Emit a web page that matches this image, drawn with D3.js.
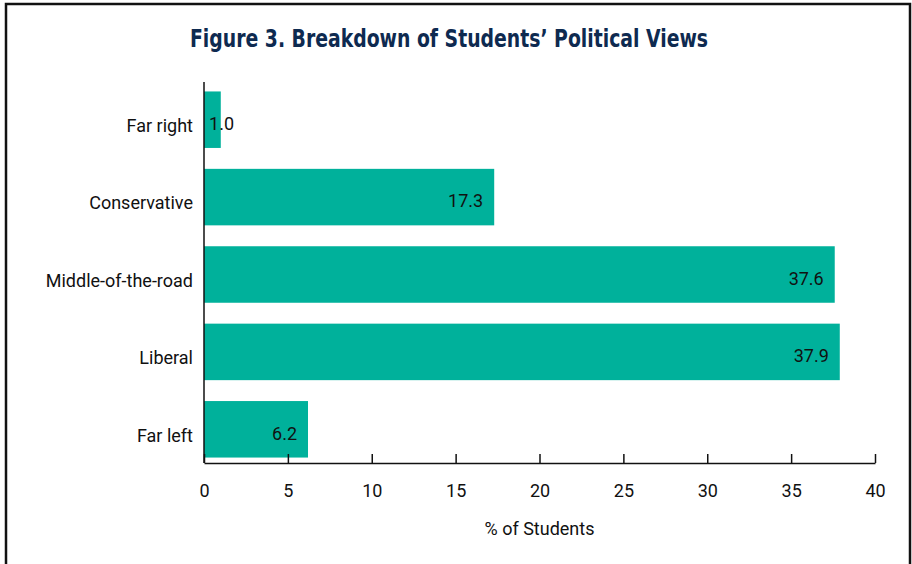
<!DOCTYPE html>
<html>
<head>
<meta charset="utf-8">
<script src="https://cdn.jsdelivr.net/npm/d3@7"></script>
<style>
  body { margin: 0; background: #fff; }
  svg { display: block; }
</style>
</head>
<body>
<div id="container"></div>
<script>
let categories = ["Far right", "Conservative", "Middle-of-the-road", "Liberal", "Far left"];
let values = [1.0, 17.3, 37.6, 37.9, 6.2];
let xTicks = [0, 5, 10, 15, 20, 25, 30, 35, 40];

let w = 912;
let h = 564;
let left = 204;
let right = 875;
let axisY = 463;
let labelFont = "Roboto, sans-serif";

let viz = d3.select("#container")
              .append("svg")
              .attr("width", w)
              .attr("height", h)
;

// frame
viz.append("rect")
    .attr("x", 6)
    .attr("y", 4)
    .attr("width", 904)
    .attr("height", 600)
    .attr("fill", "none")
    .attr("stroke", "#111")
    .attr("stroke-width", 2.5)
;

viz.append("text")
    .attr("x", 190)
    .attr("y", 47)
    .attr("textLength", 518)
    .attr("lengthAdjust", "spacingAndGlyphs")
    .style("font-family", "'DejaVu Sans Condensed', 'Liberation Sans Narrow', sans-serif")
    .style("font-weight", "bold")
    .style("font-size", "24px")
    .style("fill", "#0e2a50")
    .text("Figure 3. Breakdown of Students\u2019 Political Views")
;

let xScale = d3.scaleLinear().domain([0, 40]).range([left, right]);
let yScale = d3.scaleBand().domain(categories).range([81, 468]).paddingInner(0.27).paddingOuter(0.135);

let data = categories.map(function(c, i) { return {cat: c, val: values[i]}; });

// bars
viz.selectAll(".bar").data(data).enter()
    .append("rect")
    .attr("class", "bar")
    .attr("x", xScale(0))
    .attr("y", function(d) { return yScale(d.cat); })
    .attr("width", function(d) { return xScale(d.val) - xScale(0); })
    .attr("height", yScale.bandwidth())
    .attr("fill", "#00b19b")
;

// value labels
viz.selectAll(".val").data(data).enter()
    .append("text")
    .attr("class", "val")
    .attr("x", function(d) { return Math.max(xScale(d.val) - 11, xScale(0) + 30); })
    .attr("y", function(d) { return yScale(d.cat) + yScale.bandwidth() / 2 + 4; })
    .attr("dy", "0.35em")
    .attr("text-anchor", "end")
    .style("font-family", labelFont)
    .style("font-size", "18px")
    .style("fill", "#111")
    .text(function(d) { return d.val.toFixed(1); })
;

// category labels
viz.selectAll(".cat").data(data).enter()
    .append("text")
    .attr("class", "cat")
    .attr("x", left - 11)
    .attr("y", function(d) { return yScale(d.cat) + yScale.bandwidth() / 2 + 6; })
    .attr("dy", "0.35em")
    .attr("text-anchor", "end")
    .style("font-family", labelFont)
    .style("font-size", "18px")
    .style("fill", "#111")
    .text(function(d) { return d.cat; })
;

// y axis line
viz.append("line")
    .attr("x1", left).attr("x2", left)
    .attr("y1", 82).attr("y2", axisY)
    .attr("stroke", "#111")
    .attr("stroke-width", 1.5)
;

// x axis
let xAxis = d3.axisBottom(xScale).tickValues(xTicks).tickSize(-9).tickPadding(21).tickSizeOuter(0);
let xAxisGroup = viz.append("g")
                      .attr("class", "xaxisgroup")
                      .attr("transform", "translate(0," + axisY + ")")
;
xAxisGroup.call(xAxis);
xAxisGroup.select(".domain").attr("stroke", "#111").attr("stroke-width", 1.5);
xAxisGroup.selectAll(".tick line").attr("stroke", "#111").attr("stroke-width", 1.5);
xAxisGroup.selectAll(".tick text")
    .style("font-family", labelFont)
    .style("font-size", "18px")
    .style("fill", "#111")
;

viz.append("text")
    .attr("x", (left + right) / 2)
    .attr("y", 535)
    .attr("text-anchor", "middle")
    .style("font-family", labelFont)
    .style("font-size", "18px")
    .style("fill", "#111")
    .text("% of Students")
;
</script>
</body>
</html>
